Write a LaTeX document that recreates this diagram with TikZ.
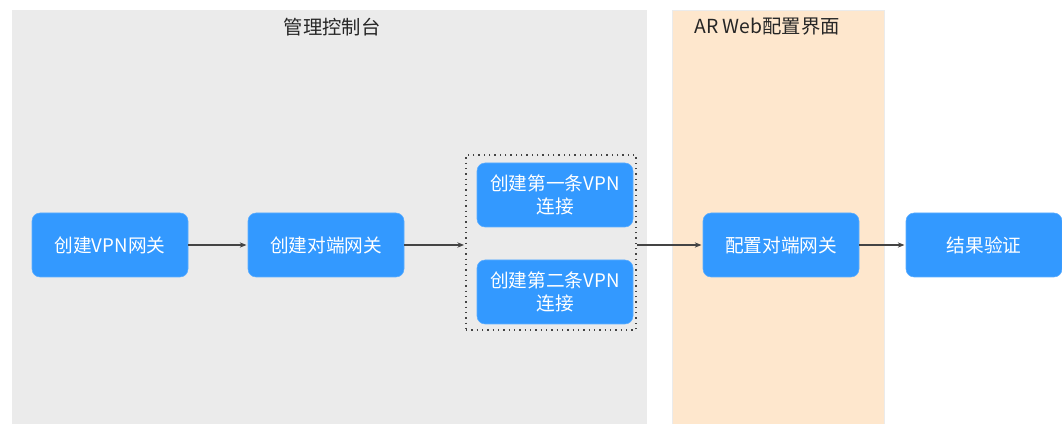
\documentclass[tikz,border=0pt]{standalone}
\usepackage{fontspec}
\setmainfont{Noto Sans CJK SC}
\usepackage{tikz}
\usetikzlibrary{
  arrows.meta,              % 箭头样式
  positioning               % 节点相对定位
}
\definecolor{panelgray}{HTML}{EBEBEB}
\definecolor{panelorange}{HTML}{FEE7CD}
\definecolor{stepblue}{HTML}{3399FF}
\definecolor{linegray}{HTML}{444444}

\begin{document}
\begin{tikzpicture}[>={Stealth[length=5pt,width=4pt]}, x=0.75pt, y=0.75pt,
  stepbox/.style={rectangle, rounded corners=6pt, fill=stepblue, draw=stepblue!80!white,
    text=white, font=\fontsize{14}{17}\selectfont, align=center,
    minimum width=117pt, minimum height=48pt, inner sep=2pt},
  flow/.style={->, draw=linegray, line width=0.8pt, shorten >=1pt},
  title/.style={font=\fontsize{14.5}{17}\selectfont, text=black!85}]
  \useasboundingbox (0,0) rectangle (1062,424);

  % 背景分区
  \filldraw[fill=panelgray, draw=black!8] (12,0) rectangle (646,414);
  \filldraw[fill=panelorange, draw=black!8] (672,0) rectangle (884,414);
  \node[title] (tconsole) at (332,397) {管理控制台};
  \node[title] (tweb) at (767,397) {AR Web配置界面};

  % 流程步骤
  \node[stepbox] (gw) at (110,179) {创建VPN网关};
  \node[stepbox] (cgw) at (326,179) {创建对端网关};
  \node[stepbox] (conna) at (555,229) {创建第一条VPN\\连接};
  \node[stepbox] (connb) at (555,132) {创建第二条VPN\\连接};
  \node[stepbox] (arcfg) at (781,179) {配置对端网关};
  \node[stepbox] (check) at (984,179) {结果验证};

  % 两条连接的虚线框
  \node[draw=linegray, line width=1pt, dash pattern=on 1pt off 3pt,
    minimum width=127.5pt, minimum height=131.25pt] (grp) at (551,181.5) {};

  % 连线
  \draw[flow] (gw) -- (cgw);
  \draw[flow] (cgw) -- (grp.west |- cgw);
  \draw[flow] (grp.east |- arcfg) -- (arcfg);
  \draw[flow] (arcfg) -- (check);
\end{tikzpicture}
\end{document}
